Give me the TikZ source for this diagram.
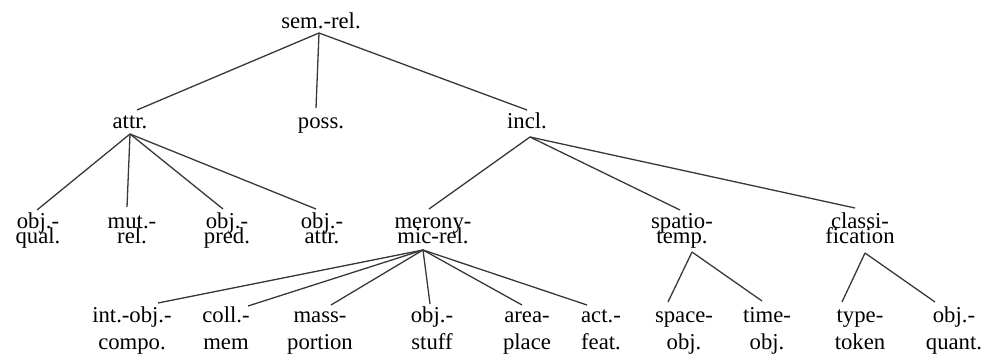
\documentclass[tikz,border=0pt]{standalone}
\usepackage{fontspec}
\setmainfont{Liberation Serif}
\newcommand\mytightlines{\lineskiplimit=-100pt\relax\lineskip=0pt\relax}
\begin{document}
\begin{tikzpicture}[x=1pt,y=-1pt,
  lab/.style={inner sep=0pt, anchor=base, align=center, font=\fontsize{22.7}{15}\selectfont\mytightlines},
  lowlab/.style={inner sep=0pt, anchor=base, align=center, font=\fontsize{22.7}{27}\selectfont\mytightlines},
  edge/.style={draw=black!78, line width=1.3pt}]
\useasboundingbox (0,0) rectangle (986,356);
% level 0
\node[lab] (sem) at (321,28) {sem.-rel.};
% level 1
\node[lab] (attr) at (130,128) {attr.};
\node[lab] (poss) at (321,128) {poss.};
\node[lab] (incl) at (527,128) {incl.};
% level 2 (base = last line)
\node[lab] (oq) at (38,243) {obj.-\\qual.};
\node[lab] (mr) at (132,243) {mut.-\\rel.};
\node[lab] (op) at (227,243) {obj.-\\pred.};
\node[lab] (oa) at (322,243) {obj.-\\attr.};
\node[lab] (mero) at (433,243) {merony-\\mic-rel.};
\node[lab] (spat) at (682,243) {spatio-\\temp.};
\node[lab] (cls) at (860,243) {classi-\\fication};
% level 3
\node[lowlab] (int) at (132,349) {int.-obj.-\\compo.};
\node[lowlab] (coll) at (226,349) {coll.-\\mem};
\node[lowlab] (mass) at (320,349) {mass-\\portion};
\node[lowlab] (ost) at (432,349) {obj.-\\stuff};
\node[lowlab] (area) at (527,349) {area-\\place};
\node[lowlab] (act) at (601,349) {act.-\\feat.};
\node[lowlab] (space) at (684,349) {space-\\obj.};
\node[lowlab] (time) at (767,349) {time-\\obj.};
\node[lowlab] (type) at (860,349) {type-\\token};
\node[lowlab] (oqn) at (954,349) {obj.-\\quant.};
% connectors
\path[edge] ([shift={(-2,5)}]sem.base) -- ([shift={(7,-18)}]attr.base);
\path[edge] ([shift={(-2,5)}]sem.base) -- ([shift={(-5,-20)}]poss.base);
\path[edge] ([shift={(-2,5)}]sem.base) -- ([shift={(0,-18)}]incl.base);
\path[edge] ([shift={(0,6)}]attr.base) -- ([shift={(-1,-33)}]oq.base);
\path[edge] ([shift={(0,6)}]attr.base) -- ([shift={(-5,-36)}]mr.base);
\path[edge] ([shift={(0,6)}]attr.base) -- ([shift={(-4,-34)}]op.base);
\path[edge] ([shift={(0,6)}]attr.base) -- ([shift={(-6,-34)}]oa.base);
\path[edge] ([shift={(3,9)}]incl.base) -- ([shift={(-4,-34)}]mero.base);
\path[edge] ([shift={(3,9)}]incl.base) -- ([shift={(-2,-33)}]spat.base);
\path[edge] ([shift={(3,9)}]incl.base) -- ([shift={(-5,-35)}]cls.base);
\path[edge] ([shift={(-10,7)}]mero.base) -- ([shift={(26,-46)}]int.base);
\path[edge] ([shift={(-10,7)}]mero.base) -- ([shift={(22,-43)}]coll.base);
\path[edge] ([shift={(-10,7)}]mero.base) -- ([shift={(11,-44)}]mass.base);
\path[edge] ([shift={(-10,7)}]mero.base) -- ([shift={(-2,-45)}]ost.base);
\path[edge] ([shift={(-10,7)}]mero.base) -- ([shift={(-5,-44)}]area.base);
\path[edge] ([shift={(-10,7)}]mero.base) -- ([shift={(-14,-44)}]act.base);
\path[edge] ([shift={(10,9)}]spat.base) -- ([shift={(-16,-47)}]space.base);
\path[edge] ([shift={(10,9)}]spat.base) -- ([shift={(-5,-48)}]time.base);
\path[edge] ([shift={(5,10)}]cls.base) -- ([shift={(-18,-47)}]type.base);
\path[edge] ([shift={(5,10)}]cls.base) -- ([shift={(-19,-47)}]oqn.base);
\end{tikzpicture}
\end{document}
